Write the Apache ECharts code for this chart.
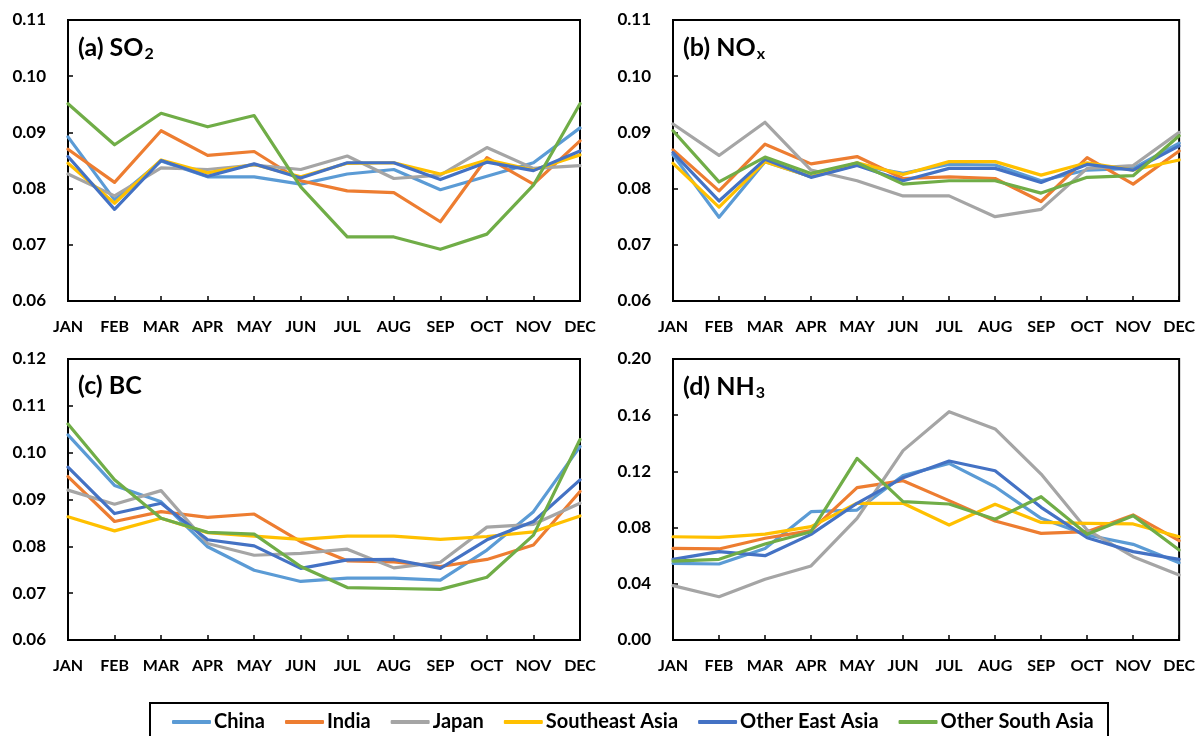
<!DOCTYPE html>
<html>
<head>
<meta charset="utf-8">
<title>Monthly emission fractions by region</title>
<script src="https://cdn.jsdelivr.net/npm/echarts@6/dist/echarts.min.js"></script>
<style>
  html, body { margin: 0; padding: 0; background: #ffffff; }
  #chart { width: 1198px; height: 736px; }
</style>
</head>
<body>
<div id="chart"></div>
<script>
// Month labels on every x axis
const months = ['JAN', 'FEB', 'MAR', 'APR', 'MAY', 'JUN', 'JUL', 'AUG', 'SEP', 'OCT', 'NOV', 'DEC'];

// Regions, in legend / drawing order
const regions = ['China', 'India', 'Japan', 'Southeast Asia', 'Other East Asia', 'Other South Asia'];
const regionColors = ['#5B9BD5', '#ED7D31', '#A5A5A5', '#FFC000', '#4472C4', '#70AD47'];

// (a) SO2 monthly fractions, one row per region
const so2Values = [
  [0.0892, 0.0780, 0.0849, 0.0821, 0.0821, 0.0808, 0.0826, 0.0834, 0.0798, 0.0822, 0.0846, 0.0908], // China
  [0.0870, 0.0811, 0.0903, 0.0859, 0.0866, 0.0814, 0.0796, 0.0793, 0.0741, 0.0855, 0.0808, 0.0885], // India
  [0.0826, 0.0787, 0.0837, 0.0834, 0.0842, 0.0834, 0.0858, 0.0818, 0.0824, 0.0873, 0.0836, 0.0841], // Japan
  [0.0845, 0.0774, 0.0851, 0.0828, 0.0843, 0.0821, 0.0845, 0.0846, 0.0826, 0.0851, 0.0833, 0.0860], // Southeast Asia
  [0.0857, 0.0763, 0.0850, 0.0822, 0.0844, 0.0819, 0.0846, 0.0846, 0.0816, 0.0847, 0.0832, 0.0867], // Other East Asia
  [0.0951, 0.0878, 0.0934, 0.0910, 0.0930, 0.0803, 0.0714, 0.0714, 0.0692, 0.0719, 0.0806, 0.0951]  // Other South Asia
];

// (b) NOx monthly fractions
const noxValues = [
  [0.0860, 0.0749, 0.0848, 0.0821, 0.0842, 0.0827, 0.0843, 0.0842, 0.0814, 0.0833, 0.0836, 0.0881],
  [0.0869, 0.0796, 0.0879, 0.0844, 0.0857, 0.0818, 0.0821, 0.0818, 0.0777, 0.0855, 0.0808, 0.0867],
  [0.0915, 0.0859, 0.0918, 0.0833, 0.0814, 0.0787, 0.0787, 0.0750, 0.0763, 0.0836, 0.0841, 0.0900],
  [0.0845, 0.0767, 0.0848, 0.0821, 0.0846, 0.0825, 0.0848, 0.0848, 0.0824, 0.0846, 0.0833, 0.0851],
  [0.0864, 0.0778, 0.0852, 0.0820, 0.0841, 0.0814, 0.0836, 0.0836, 0.0811, 0.0843, 0.0833, 0.0876],
  [0.0903, 0.0812, 0.0856, 0.0827, 0.0846, 0.0808, 0.0814, 0.0814, 0.0792, 0.0820, 0.0823, 0.0894]
];

// (c) BC monthly fractions
const bcValues = [
  [0.1038, 0.0930, 0.0895, 0.0799, 0.0749, 0.0725, 0.0732, 0.0732, 0.0728, 0.0792, 0.0874, 0.1013],
  [0.0949, 0.0853, 0.0874, 0.0862, 0.0869, 0.0810, 0.0769, 0.0767, 0.0757, 0.0772, 0.0803, 0.0917],
  [0.0920, 0.0890, 0.0919, 0.0806, 0.0781, 0.0785, 0.0794, 0.0754, 0.0766, 0.0841, 0.0847, 0.0892],
  [0.0863, 0.0833, 0.0860, 0.0829, 0.0822, 0.0815, 0.0822, 0.0822, 0.0815, 0.0821, 0.0831, 0.0865],
  [0.0969, 0.0870, 0.0892, 0.0814, 0.0801, 0.0753, 0.0771, 0.0772, 0.0753, 0.0814, 0.0853, 0.0942],
  [0.1061, 0.0942, 0.0860, 0.0830, 0.0826, 0.0757, 0.0712, 0.0710, 0.0708, 0.0734, 0.0824, 0.1028]
];

// (d) NH3 monthly fractions
const nh3Values = [
  [0.0546, 0.0541, 0.0652, 0.0913, 0.0925, 0.1170, 0.1257, 0.1091, 0.0866, 0.0747, 0.0681, 0.0550],
  [0.0652, 0.0648, 0.0724, 0.0778, 0.1084, 0.1134, 0.0992, 0.0847, 0.0759, 0.0771, 0.0890, 0.0707],
  [0.0387, 0.0308, 0.0432, 0.0527, 0.0866, 0.1348, 0.1625, 0.1502, 0.1181, 0.0783, 0.0593, 0.0463],
  [0.0735, 0.0731, 0.0754, 0.0807, 0.0973, 0.0973, 0.0818, 0.0966, 0.0837, 0.0830, 0.0826, 0.0735],
  [0.0574, 0.0629, 0.0600, 0.0752, 0.0973, 0.1155, 0.1274, 0.1205, 0.0944, 0.0728, 0.0629, 0.0574],
  [0.0562, 0.0574, 0.0683, 0.0771, 0.1293, 0.0985, 0.0968, 0.0859, 0.1020, 0.0752, 0.0885, 0.0641]
];

// Panel titles: main text + subscript
const panelTitles = [['(a) SO', '2'], ['(b) NO', 'x'], ['(c) BC', ''], ['(d) NH', '3']];
// Y-axis ranges per panel: [min, max, interval]
const yRanges = [[0.06, 0.11, 0.01], [0.06, 0.11, 0.01], [0.06, 0.12, 0.01], [0.00, 0.20, 0.04]];

const panelValues = [so2Values, noxValues, bcValues, nh3Values];

const FONT = 'Lato, "Open Sans", sans-serif';
const grids = [
  { left: 68, top: 20, width: 512, height: 281 },
  { left: 673, top: 20, width: 508, height: 281 },
  { left: 68, top: 359, width: 512, height: 281 },
  { left: 673, top: 359, width: 508, height: 281 }
];

const chart = echarts.init(document.getElementById('chart'), null, { renderer: 'canvas' });

const xAxes = grids.map((g, i) => ({
  type: 'category',
  gridIndex: i,
  data: months,
  boundaryGap: false,
  axisLine: { show: true, lineStyle: { color: '#000', width: 2 } },
  axisTick: { show: true, inside: true, length: 5, alignWithLabel: true, lineStyle: { color: '#000', width: 1.5 } },
  axisLabel: { color: '#000', fontFamily: FONT, fontWeight: 'bold', fontSize: 16, margin: 18, interval: 0 },
  splitLine: { show: false }
}));

const yAxes = grids.map((g, i) => ({
  type: 'value',
  gridIndex: i,
  min: yRanges[i][0],
  max: yRanges[i][1],
  interval: yRanges[i][2],
  axisLine: { show: true, lineStyle: { color: '#000', width: 2 } },
  axisTick: { show: true, inside: true, length: 5, lineStyle: { color: '#000', width: 1.5 } },
  axisLabel: {
    color: '#000', fontFamily: FONT, fontWeight: 'bold', fontSize: 17, margin: 22,
    formatter: v => v.toFixed(2)
  },
  splitLine: { show: false }
}));

const titles = grids.map((g, i) => ({
  left: g.left + 5,
  top: g.top + 9,
  text: '{m|' + panelTitles[i][0] + '}' + (panelTitles[i][1] ? '{s|' + panelTitles[i][1] + '}' : ''),
  textStyle: {
    rich: {
      m: { fontFamily: FONT, fontWeight: 'bold', fontSize: 25, color: '#000' },
      s: { fontFamily: FONT, fontWeight: 'bold', fontSize: 16, color: '#000', verticalAlign: 'bottom', padding: [12, 0, 0, 1] }
    }
  }
}));

const series = [];
panelValues.forEach((rows, p) => {
  rows.forEach((vals, r) => {
    series.push({
      type: 'line',
      name: regions[r],
      xAxisIndex: p,
      yAxisIndex: p,
      data: vals,
      showSymbol: false,
      symbol: 'none',
      z: 2 + r * 0.01,
      lineStyle: { color: regionColors[r], width: 3.2, join: 'round', cap: 'round' },
      itemStyle: { color: regionColors[r] },
      emphasis: { disabled: true },
      animation: false
    });
  });
});

chart.setOption({
  animation: false,
  backgroundColor: '#ffffff',
  color: regionColors,
  title: titles,
  grid: grids.map(g => Object.assign({ show: true, borderColor: '#000', borderWidth: 2, backgroundColor: 'transparent' }, g)),
  xAxis: xAxes,
  yAxis: yAxes,
  legend: {
    data: regions,
    left: 172,
    top: 712,
    padding: 0,
    itemGap: 20,
    itemWidth: 39,
    itemHeight: 4,
    icon: 'roundRect',
    textStyle: { fontFamily: FONT, fontWeight: 'bold', fontSize: 20, color: '#000', padding: [0, 0, 0, -2] }
  },
  graphic: [{
    type: 'rect',
    shape: { x: 150, y: 703, width: 958, height: 50 },
    style: { fill: 'none', stroke: '#000', lineWidth: 2 },
    silent: true
  }],
  series: series
});
</script>
</body>
</html>
